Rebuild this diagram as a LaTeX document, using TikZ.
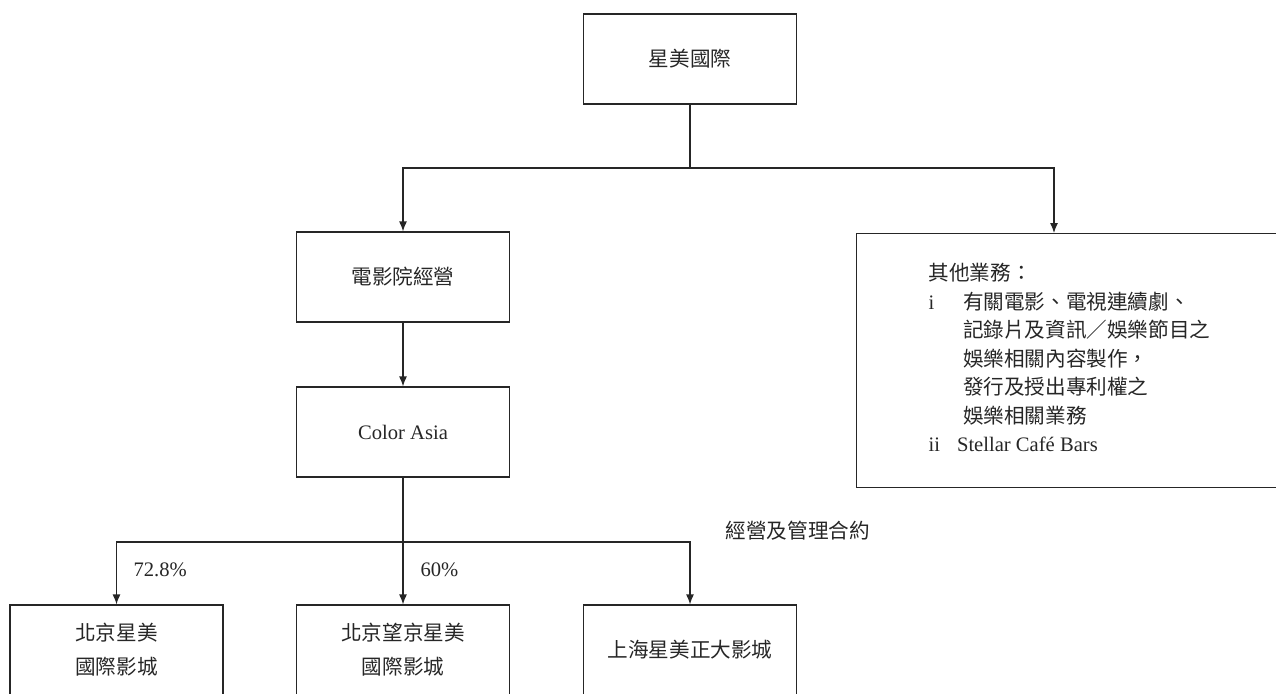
\documentclass[tikz,border=0pt]{standalone}
\usepackage{fontspec}
\setmainfont{Liberation Serif}
\newfontfamily\cjk{Noto Sans CJK TC}
\usetikzlibrary{arrows.meta,positioning}
\tikzset{
  unit/.style={draw, minimum width=106.5pt, minimum height=45pt, inner sep=0pt, align=center},
  arr/.style={-{Latex[length=5pt,width=4pt]}},
  lbl/.style={inner sep=0pt},
  cjktext/.style={font=\fontsize{10.3}{16}\selectfont\cjk},
  cjkpair/.style={font=\fontsize{10.3}{17}\selectfont\cjk},
}
\begin{document}
\begin{tikzpicture}[x=0.5pt,y=-0.5pt,line width=0.6pt,color=black!85,font=\fontsize{10.3}{16}\selectfont]
\useasboundingbox (0,0) rectangle (1276,693);
%\draw[step=50,gray,very thin,dashed] (0,0) grid (1276,693);
\node[unit,cjktext] (intl) at (690,59) {星美國際};
\node[unit,cjktext] (cinema) at (403,277) {電影院經營};
\node[unit] (colorasia) at (403,432) {Color Asia};
\node[draw,anchor=north west,minimum width=240pt,minimum height=127pt,inner sep=0pt] (others) at (856,233) {};
\node[anchor=north west,inner sep=0pt,font=\fontsize{10.3}{14.25}\selectfont] (otherstext) at (928,260) {%
\begin{tabular}{@{}l@{\hspace{11.5pt}}l@{}}
\multicolumn{2}{@{}l@{}}{\cjk 其他業務：}\\
i & \cjk 有關電影、電視連續劇、\\
  & \cjk 記錄片及資訊／娛樂節目之\\
  & \cjk 娛樂相關內容製作，\\
  & \cjk 發行及授出專利權之\\
  & \cjk 娛樂相關業務\\
ii & \hspace{-3pt}Stellar Café Bars
\end{tabular}};
\node[unit,cjkpair] (bjstellar) at (116.5,650) {北京星美\\國際影城};
\node[unit,cjkpair] (bjwangjing) at (403,650) {北京望京星美\\國際影城};
\node[unit,cjktext] (shstellar) at (690,650) {上海星美正大影城};
% connectors
\coordinate (topsplit) at (690,168);
\draw (intl) -- (topsplit);
\draw[arr] (topsplit) -| (cinema);
\draw[arr] (topsplit) -| ([xshift=99pt]others.north west);
\draw[arr] (cinema) -- (colorasia);
\coordinate (colorsplit) at (403,542);
\draw (colorasia) -- (colorsplit);
\draw[arr] (colorsplit) -| (bjstellar);
\draw[arr] (colorsplit) -- (bjwangjing);
\draw[arr] (colorsplit) -| (shstellar);
% labels
\node[lbl,anchor=west] (pctbj) at (133,570) {72.8\%};
\node[lbl,anchor=west] (pctwj) at (420,570) {60\%};
\node[lbl,cjktext,anchor=west] (mgmt) at (725,531) {經營及管理合約};
\end{tikzpicture}
\end{document}
